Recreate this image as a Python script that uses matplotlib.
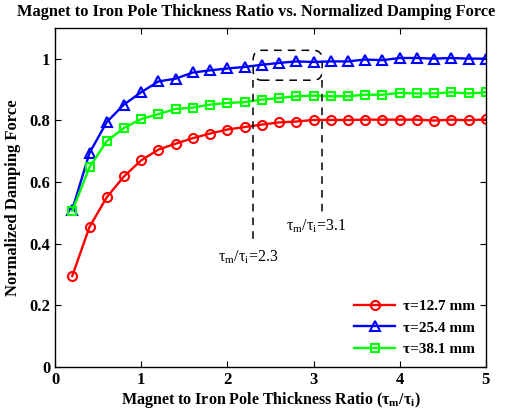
import matplotlib
matplotlib.use('Agg')
import matplotlib.pyplot as plt
from matplotlib.patches import FancyBboxPatch

plt.rcParams['font.family'] = 'Liberation Serif'
plt.rcParams['mathtext.fontset'] = 'custom'
plt.rcParams['mathtext.rm'] = 'Liberation Serif'
plt.rcParams['mathtext.bf'] = 'Liberation Serif:bold'
plt.rcParams['mathtext.it'] = 'Liberation Serif:italic'

# data
ratio = [0.2, 0.4, 0.6, 0.8, 1.0, 1.2, 1.4, 1.6, 1.8, 2.0, 2.2, 2.4, 2.6,
         2.8, 3.0, 3.2, 3.4, 3.6, 3.8, 4.0, 4.2, 4.4, 4.6, 4.8, 5.0]
f_127 = [0.295, 0.454, 0.550, 0.618, 0.670, 0.705, 0.724, 0.742, 0.757, 0.770, 0.778, 0.786, 0.793,
         0.796, 0.801, 0.801, 0.801, 0.802, 0.802, 0.802, 0.802, 0.799, 0.802, 0.800, 0.803]
f_254 = [0.510, 0.694, 0.794, 0.851, 0.891, 0.926, 0.935, 0.955, 0.962, 0.968, 0.973, 0.980, 0.986,
         0.991, 0.989, 0.991, 0.991, 0.997, 0.995, 1.002, 1.002, 1.000, 1.002, 1.000, 1.000]
f_381 = [0.506, 0.648, 0.732, 0.775, 0.804, 0.820, 0.837, 0.841, 0.851, 0.856, 0.859, 0.867, 0.872,
         0.878, 0.880, 0.878, 0.878, 0.883, 0.883, 0.889, 0.887, 0.887, 0.891, 0.887, 0.891]
labels = ['\u03c4=12.7 mm', '\u03c4=25.4 mm', '\u03c4=38.1 mm']
xticks = [0, 1, 2, 3, 4, 5]
yticks = [0, 0.2, 0.4, 0.6, 0.8, 1.0]
ytick_labels = ['0', '0.2', '0.4', '0.6', '0.8', '1']

fig = plt.figure(figsize=(5.05, 4.15), dpi=100)
ax = fig.add_axes([0.109, 0.116, 0.853, 0.817])

ax.plot(ratio, f_127, '-o', color='red', lw=1.7, ms=6.5, mfc='none', mew=1.5, label=labels[0])
ax.plot(ratio, f_254, '-^', color='blue', lw=1.7, ms=7.5, mfc='none', mew=1.5, label=labels[1])
ax.plot(ratio, f_381, '-s', color='#00ff00', lw=1.7, ms=6, mfc='none', mew=1.5, label=labels[2])

# dashed box and guide lines
box = FancyBboxPatch((2.3, 0.93), 0.8, 0.097, boxstyle='round,pad=0,rounding_size=0.1',
                     fill=False, ls=(0, (5, 4)), lw=1.1, ec='black',
                     mutation_aspect=0.3)
ax.add_patch(box)
ax.plot([2.3, 2.3], [0.93, 0.40], color='black', ls=(0, (5, 4)), lw=1.1)
ax.plot([3.1, 3.1], [0.93, 0.50], color='black', ls=(0, (5, 4)), lw=1.1)
ax.text(2.24, 0.355, '\u03c4$_{\\rm m}$/\u03c4$_{\\rm i}$=2.3',
        ha='center', va='center', fontsize=11.5)
ax.text(3.03, 0.455, '\u03c4$_{\\rm m}$/\u03c4$_{\\rm i}$=3.1',
        ha='center', va='center', fontsize=11.5)

ax.set_xlim(0, 5)
ax.set_ylim(0, 1.1)
ax.set_xticks(xticks)
ax.set_xticklabels([str(t) for t in xticks], fontweight='bold', fontsize=12)
ax.set_yticks(yticks)
ax.set_yticklabels(ytick_labels, fontweight='bold', fontsize=12)
ax.tick_params(direction='in', top=True, right=True, length=4, width=0.8)
for s in ax.spines.values():
    s.set_linewidth(1.0)

ax.set_xlabel('Magnet to Iron Pole Thickness Ratio (\u03c4$_{\\mathbf{m}}$/\u03c4$_{\\mathbf{i}}$)',
              fontweight='bold', fontsize=11.5, labelpad=2)
ax.set_ylabel('Normalized Damping Force', fontweight='bold', fontsize=12, labelpad=6)
fig.text(0.507, 0.971, 'Magnet to Iron Pole Thickness Ratio vs. Normalized Damping Force',
         fontweight='bold', fontsize=11.8, ha='center', va='center')

leg = ax.legend(loc='lower right', frameon=False, prop={'weight': 'bold', 'size': 11},
                handlelength=2.7, borderaxespad=0.3, labelspacing=0.5, handletextpad=0.5)

fig.savefig('out.png', dpi=100)
